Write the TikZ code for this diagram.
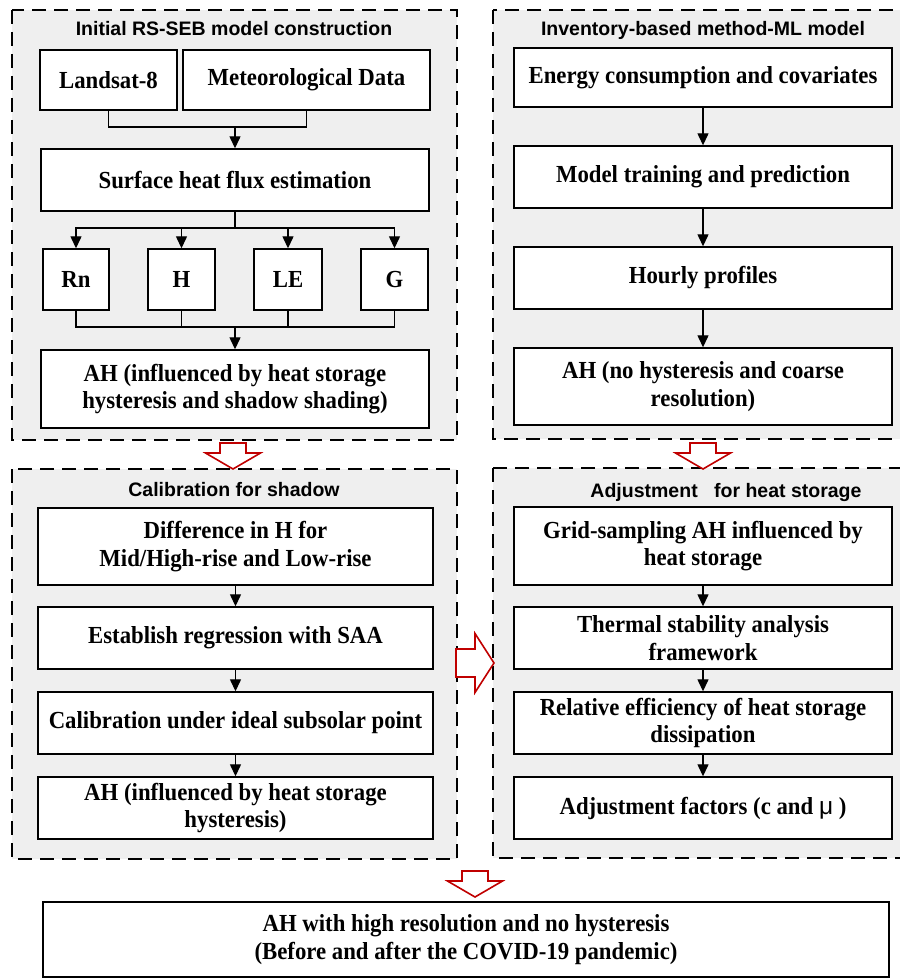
\documentclass[tikz,border=0pt]{standalone}
\usepackage{fontspec}
\setmainfont{Liberation Serif}[BoldFeatures={FakeStretch=0.93}]
\setsansfont{Liberation Sans}
\usetikzlibrary{arrows.meta, positioning}

\definecolor{panelgray}{RGB}{239,239,239}
\definecolor{arrowred}{RGB}{192,0,0}

\tikzset{
  panel/.style={draw, fill=panelgray, line width=1.5pt, dash pattern=on 14pt off 8pt},
  paneltitle/.style={anchor=base, font=\sffamily\bfseries\fontsize{19.5}{22}\selectfont},
  box/.style={draw, fill=white, line width=1.4pt, inner sep=0pt, align=center,
    font=\bfseries\fontsize{24.5}{27.5}\selectfont},
  link/.style={line width=1.3pt, -{Triangle[length=12pt,width=11pt]}},
  plain/.style={line width=1.3pt},
  hollow/.style={draw=arrowred, fill=white, line width=1.6pt},
  downarrow/.pic={\path[hollow] (0,0) -- (-27.5,-16) -- (-13,-16) -- (-13,-26) --
      (13,-26) -- (13,-16) -- (27.5,-16) -- cycle;},
  rightarrow/.pic={\path[hollow] (0,0) -- (-19,-29.5) -- (-19,-14) -- (-38,-14) --
      (-38,14) -- (-19,14) -- (-19,29.5) -- cycle;}
}

\begin{document}
\begin{tikzpicture}[x=1pt, y=-1pt]
\useasboundingbox (0,0) rectangle (899,979);

% the four dashed panels
\path[panel] (12,10) rectangle (457,440);
\path[panel] (493,10) rectangle (902,439);
\path[panel] (12,469) rectangle (457,859);
\path[panel] (493,468) rectangle (902,858);

\path (234,36) node[paneltitle] (t-init) {Initial RS-SEB model construction};
\path (703,36) node[paneltitle] (t-inv) {Inventory-based method-ML model};
\path (234,496) node[paneltitle] (t-cal) {Calibration for shadow};
\path (726,497) node[paneltitle] (t-adj) {Adjustment\hspace{11pt} for heat storage};

% initial RS-SEB model
\path (108.5,80) node[box, minimum width=137, minimum height=60] (landsat) {Landsat-8};
\path (306.5,80) node[box, minimum width=247, minimum height=60] (meteo) {Meteorological Data};
\path (235,180) node[box, minimum width=388, minimum height=62] (flux) {Surface heat flux estimation};
\path (76,279.5) node[box, minimum width=66, minimum height=61] (rn) {Rn};
\path (181.5,279.5) node[box, minimum width=67, minimum height=61] (hh) {H};
\path (288,279.5) node[box, minimum width=68, minimum height=61] (le) {LE};
\path (394.5,279.5) node[box, minimum width=67, minimum height=61] (gg) {G};
\path (235,389) node[box, minimum width=388, minimum height=78] (ah-init)
  {AH (influenced by heat storage\\hysteresis and shadow shading)};

\coordinate (j-in) at (235,127);
\coordinate (j-split) at (235,228);
\coordinate (j-merge) at (235,327);

\draw[plain] (landsat.south) |- (j-in) -| (meteo.south);
\draw[link] (j-in) -- (flux.north);
\draw[plain] (flux.south) -- (j-split);
\foreach \n in {rn,hh,le,gg}
  \draw[link] (j-split) -| (\n.north);
\foreach \n in {rn,hh,le,gg}
  \draw[plain] (\n.south) |- (j-merge);
\draw[link] (j-merge) -- (ah-init.north);

% inventory-based method
\path (703,77.5) node[box, minimum width=378, minimum height=59] (energy) {Energy consumption and covariates};
\path (703,177) node[box, minimum width=378, minimum height=62] (train) {Model training and prediction};
\path (703,278) node[box, minimum width=378, minimum height=62] (hourly) {Hourly profiles};
\path (703,386.5) node[box, minimum width=378, minimum height=77] (ah-inv)
  {AH (no hysteresis and coarse\\resolution)};

\draw[link] (energy) -- (train);
\draw[link] (train) -- (hourly);
\draw[link] (hourly) -- (ah-inv);

% calibration for shadow
\path (235.5,546.5) node[box, minimum width=395, minimum height=77] (diff)
  {Difference in H for\\Mid/High-rise and Low-rise};
\path (235.5,638) node[box, minimum width=395, minimum height=62] (regr) {Establish regression with SAA};
\path (235.5,723) node[box, minimum width=395, minimum height=62] (calib) {Calibration under ideal subsolar point};
\path (235.5,808) node[box, minimum width=395, minimum height=62] (ah-cal)
  {AH (influenced by heat storage\\hysteresis)};

\draw[link] (diff) -- (regr);
\draw[link] (regr) -- (calib);
\draw[link] (calib) -- (ah-cal);

% adjustment for heat storage
\path (703,546) node[box, minimum width=378, minimum height=78] (grid)
  {Grid-sampling AH influenced by\\heat storage};
\path (703,638) node[box, minimum width=378, minimum height=62] (thermal)
  {Thermal stability analysis\\framework};
\path (703,723) node[box, minimum width=378, minimum height=62] (relative)
  {Relative efficiency of heat storage\\dissipation};
\path (703,808) node[box, minimum width=378, minimum height=62] (factors)
  {Adjustment factors (c and {\sffamily\mdseries μ} )};

\draw[link] (grid) -- (thermal);
\draw[link] (thermal) -- (relative);
\draw[link] (relative) -- (factors);

% result
\path (466,939.5) node[box, minimum width=846, minimum height=75] (final)
  {AH with high resolution and no hysteresis\\(Before and after the COVID-19 pandemic)};

% hollow red arrows between the panels
\pic at (233,469) {downarrow};
\pic at (703,469) {downarrow};
\pic at (494,663) {rightarrow};
\pic at (475,897) {downarrow};
\end{tikzpicture}
\end{document}
